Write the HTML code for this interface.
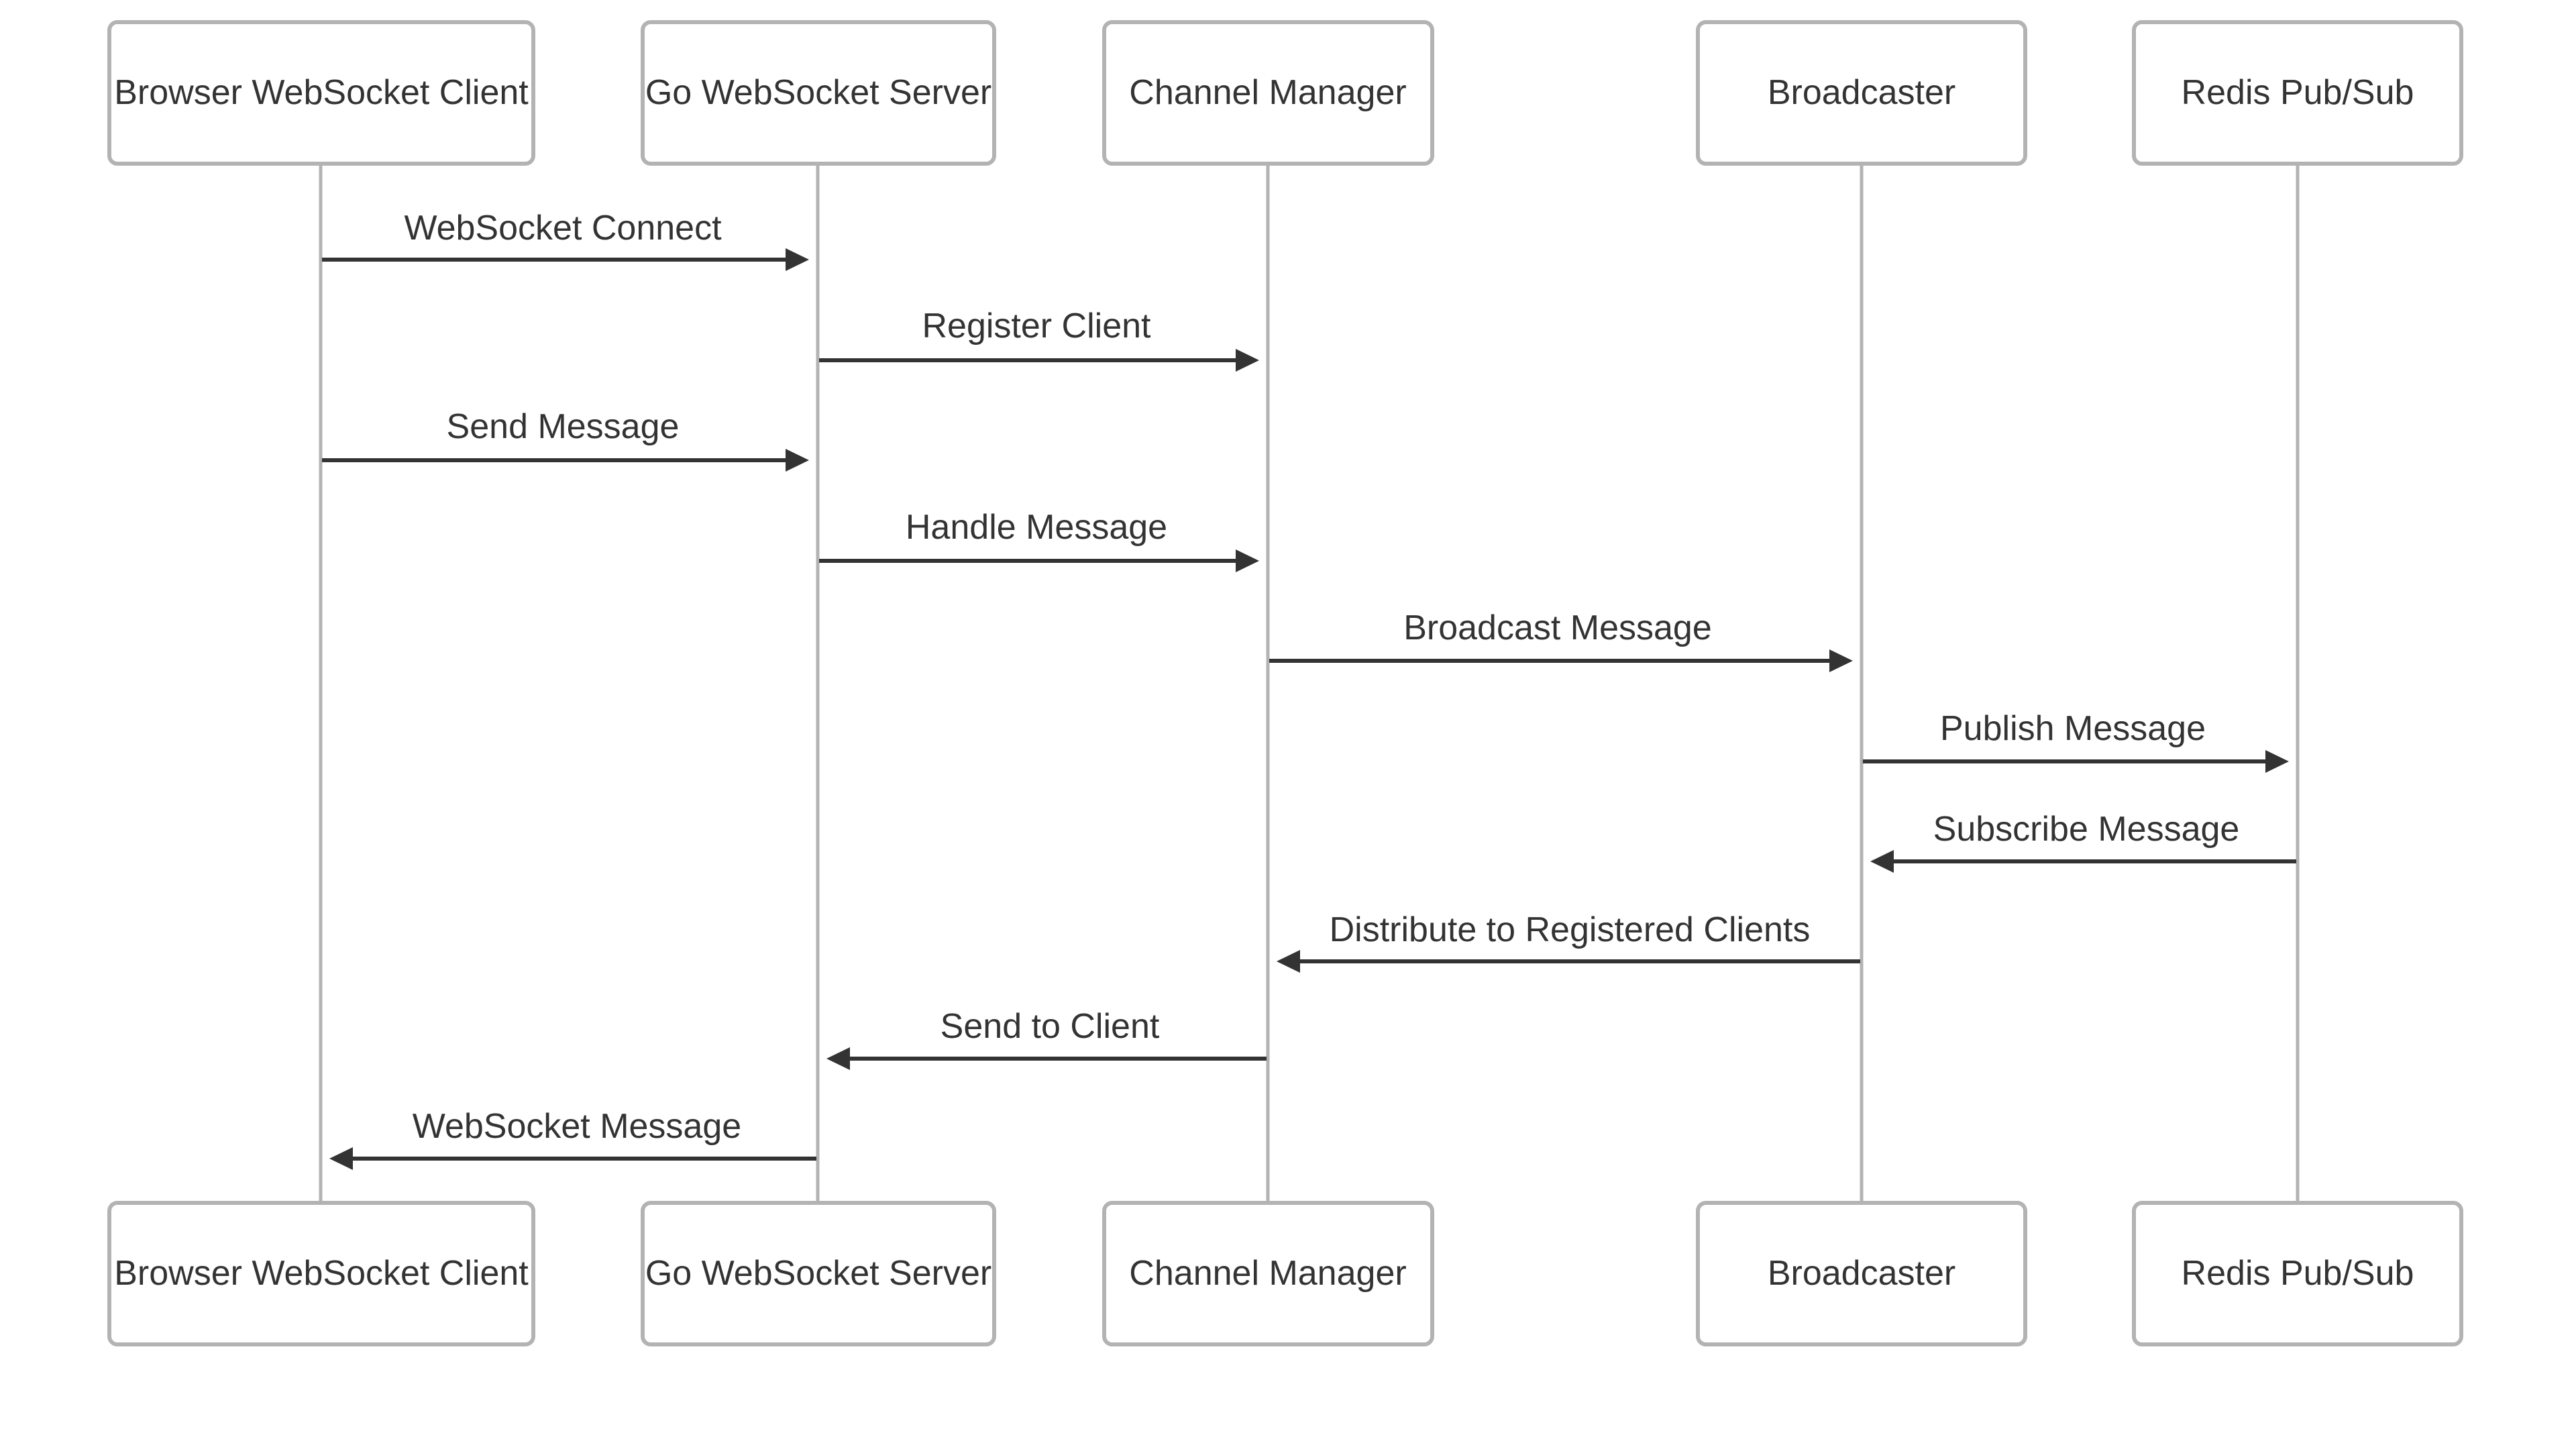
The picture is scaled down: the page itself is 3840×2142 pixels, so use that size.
<!DOCTYPE html>
<html><head><meta charset="utf-8"><style>html,body{margin:0;padding:0;background:#fff}svg{display:block}</style></head>
<body>
<svg width="3840" height="2142" viewBox="0 0 3840 2142" xmlns="http://www.w3.org/2000/svg" font-family="'Liberation Sans', Arial, sans-serif">
<rect width="3840" height="2142" fill="#fff"/>
<g stroke="#b3b3b3" stroke-width="5">
<line x1="478" y1="243" x2="478" y2="1792"/>
<line x1="1219" y1="243" x2="1219" y2="1792"/>
<line x1="1890" y1="243" x2="1890" y2="1792"/>
<line x1="2775" y1="243" x2="2775" y2="1792"/>
<line x1="3425" y1="243" x2="3425" y2="1792"/>
</g>
<g fill="#fff" stroke="#b3b3b3" stroke-width="6">
<rect x="163" y="33" width="632" height="211" rx="12"/>
<rect x="958" y="33" width="524" height="211" rx="12"/>
<rect x="1646" y="33" width="489" height="211" rx="12"/>
<rect x="2531" y="33" width="488" height="211" rx="12"/>
<rect x="3181" y="33" width="488" height="211" rx="12"/>
<rect x="163" y="1793" width="632" height="211" rx="12"/>
<rect x="958" y="1793" width="524" height="211" rx="12"/>
<rect x="1646" y="1793" width="489" height="211" rx="12"/>
<rect x="2531" y="1793" width="488" height="211" rx="12"/>
<rect x="3181" y="1793" width="488" height="211" rx="12"/>
</g>
<g fill="#333" font-size="52" text-anchor="middle" dominant-baseline="central">
<text x="479" y="138">Browser WebSocket Client</text>
<text x="1220" y="138">Go WebSocket Server</text>
<text x="1890" y="138">Channel Manager</text>
<text x="2775" y="138">Broadcaster</text>
<text x="3425" y="138">Redis Pub/Sub</text>
<text x="479" y="1898">Browser WebSocket Client</text>
<text x="1220" y="1898">Go WebSocket Server</text>
<text x="1890" y="1898">Channel Manager</text>
<text x="2775" y="1898">Broadcaster</text>
<text x="3425" y="1898">Redis Pub/Sub</text>
</g>
<g stroke="#333" stroke-width="6">
<line x1="480" y1="387" x2="1180" y2="387"/>
<line x1="1221" y1="537" x2="1851" y2="537"/>
<line x1="480" y1="686" x2="1180" y2="686"/>
<line x1="1221" y1="836" x2="1851" y2="836"/>
<line x1="1892" y1="985" x2="2736" y2="985"/>
<line x1="2777" y1="1135" x2="3386" y2="1135"/>
<line x1="3423" y1="1284" x2="2814" y2="1284"/>
<line x1="2773" y1="1433" x2="1929" y2="1433"/>
<line x1="1888" y1="1578" x2="1258" y2="1578"/>
<line x1="1217" y1="1727" x2="517" y2="1727"/>
</g>
<g fill="#333">
<polygon points="1171,370 1206,387 1171,404"/>
<polygon points="1842,520 1877,537 1842,554"/>
<polygon points="1171,669 1206,686 1171,703"/>
<polygon points="1842,819 1877,836 1842,853"/>
<polygon points="2727,968 2762,985 2727,1002"/>
<polygon points="3377,1118 3412,1135 3377,1152"/>
<polygon points="2823,1267 2788,1284 2823,1301"/>
<polygon points="1938,1416 1903,1433 1938,1450"/>
<polygon points="1267,1561 1232,1578 1267,1595"/>
<polygon points="526,1710 491,1727 526,1744"/>
</g>
<g fill="#333" font-size="52" text-anchor="middle">
<text x="839" y="357">WebSocket Connect</text>
<text x="1545" y="503">Register Client</text>
<text x="839" y="653">Send Message</text>
<text x="1545" y="803">Handle Message</text>
<text x="2322" y="953">Broadcast Message</text>
<text x="3090" y="1103">Publish Message</text>
<text x="3110" y="1253">Subscribe Message</text>
<text x="2340" y="1403">Distribute to Registered Clients</text>
<text x="1565" y="1547">Send to Client</text>
<text x="860" y="1696">WebSocket Message</text>
</g>
</svg>
</body></html>
